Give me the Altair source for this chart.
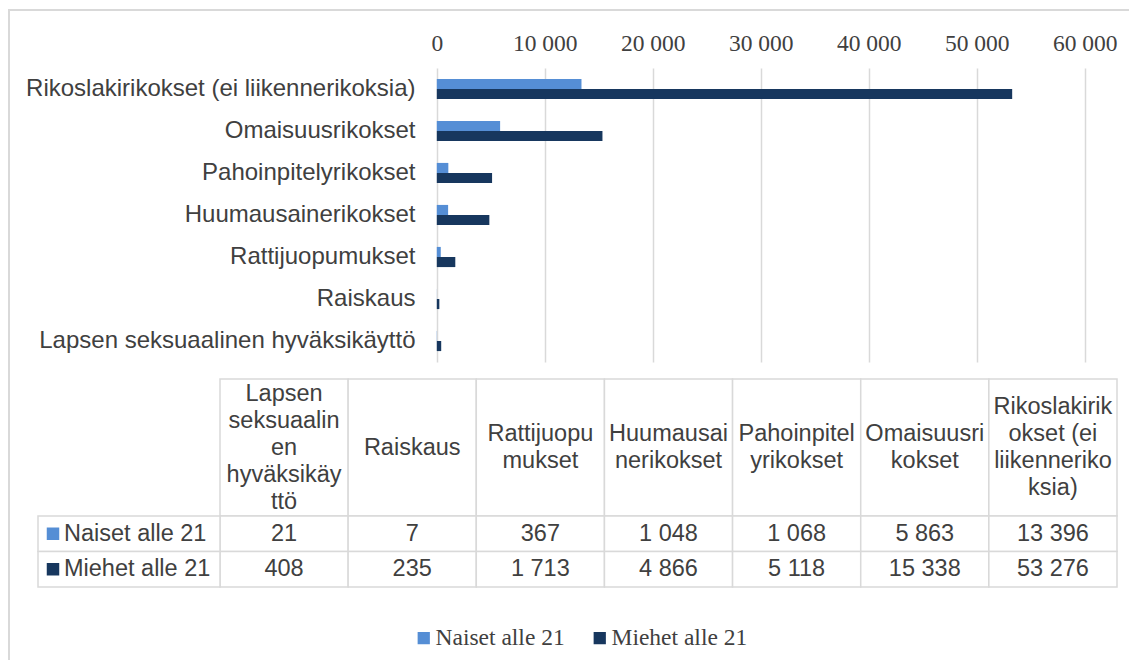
import altair as alt
import pandas as pd

# ---- data ----
categories = [
    "Lapsen seksuaalinen hyväksikäyttö",
    "Raiskaus",
    "Rattijuopumukset",
    "Huumausainerikokset",
    "Pahoinpitelyrikokset",
    "Omaisuusrikokset",
    "Rikoslakirikokset (ei liikennerikoksia)",
]
header_labels = [
    "Lapsen\nseksuaalin\nen\nhyväksikäy\nttö",
    "Raiskaus",
    "Rattijuopu\nmukset",
    "Huumausai\nnerikokset",
    "Pahoinpitel\nyrikokset",
    "Omaisuusri\nkokset",
    "Rikoslakirik\nokset (ei\nliikenneriko\nksia)",
]
series = ["Naiset alle 21", "Miehet alle 21"]
naiset = [21, 7, 367, 1048, 1068, 5863, 13396]
miehet = [408, 235, 1713, 4866, 5118, 15338, 53276]
x_ticks = [0, 10000, 20000, 30000, 40000, 50000, 60000]
colors = ["#558ED5", "#17375E"]

# ---- tables built from the arrays ----
rows = []
for s, vals in zip(series, [naiset, miehet]):
    for c, v in zip(categories, vals):
        rows.append({"category": c, "series": s, "value": v})
df_long = pd.DataFrame(rows)
df_cat = pd.DataFrame({"category": categories, "row": "header"})
df_ser = pd.DataFrame({"series": series, "col": "key"})

# one row per wrapped header line; "pos" is the line's place relative to the block centre
line_rows = []
for c, lab in zip(categories, header_labels):
    parts = lab.split("\n")
    n = len(parts)
    for i, p in enumerate(parts):
        line_rows.append({"category": c, "line": p, "pos": i - (n - 1) / 2})
df_lines = pd.DataFrame(line_rows)

SANS = "Liberation Sans"
SERIF = "Liberation Serif"
TXT = "#404040"
GRID = "#D9D9D9"
FS = 23.5
LH = 27
W, H = 1120, 650

legend = alt.Legend(
    orient="none", legendX=403, legendY=616, direction="horizontal", title=None,
    symbolType="square", symbolSize=150, symbolStrokeWidth=0,
    labelFont=SERIF, labelFontSize=FS, labelColor=TXT, labelOffset=0,
    columnPadding=23, labelLimit=400, padding=0,
)
color_enc = alt.Color("series:N", scale=alt.Scale(domain=series, range=colors), legend=legend)

# ---- bar chart ----
bars = alt.Chart(df_long).mark_bar().encode(
    x=alt.X(
        "value:Q",
        scale=alt.Scale(domain=[0, 60000], range=[427.8, 1075.8], nice=False),
        axis=alt.Axis(
            orient="top", values=x_ticks, title=None,
            labelExpr="replace(format(datum.value, ','), ',', ' ')",
            labelFont=SERIF, labelFontSize=FS, labelColor=TXT,
            labelBaseline="alphabetic", labelPadding=0, labelFlush=False, labelOverlap=False,
            ticks=False, tickSize=0, domain=False, offset=-40,
            grid=True, gridColor=GRID, gridWidth=1.5,
        ),
    ),
    y=alt.Y(
        "category:N", sort=list(reversed(categories)),
        scale=alt.Scale(range=[58, 352], paddingInner=0.52, paddingOuter=0.26),
        axis=alt.Axis(
            title=None, labelFont=SANS, labelFontSize=24, labelColor=TXT,
            labelLimit=600, labelPadding=0, ticks=False, tickSize=0,
            domain=False, grid=False, offset=-406,
        ),
    ),
    yOffset=alt.YOffset("series:N", sort=series, scale=alt.Scale(paddingInner=0, paddingOuter=0)),
    color=color_enc,
)

# ---- table header cells ----
hx = alt.X("category:N", sort=categories,
           scale=alt.Scale(range=[211, 1108], paddingInner=0, paddingOuter=0), axis=None)
hy = alt.Y("row:N", scale=alt.Scale(range=[369, 506], paddingInner=0, paddingOuter=0), axis=None)
header_cells = alt.Chart(df_cat).mark_rect(fill="white", stroke=GRID, strokeWidth=1.5).encode(x=hx, y=hy)

# ---- table header text (wrapped, vertically centred) ----
header_text = alt.Chart(df_lines).mark_text(
    font=SANS, fontSize=FS, color=TXT, align="center", baseline="middle"
).encode(
    x=alt.X("category:N", sort=categories,
            scale=alt.Scale(range=[211, 1108], paddingInner=0, paddingOuter=0), axis=None),
    y=alt.Y("pos:Q", scale=alt.Scale(domain=[-2.5, 2.5], range=[437.5 - 2.5 * LH, 437.5 + 2.5 * LH],
                                     zero=False, nice=False), axis=None),
    text="line:N",
)

# ---- table value rows ----
rx = alt.X("category:N", sort=categories,
           scale=alt.Scale(range=[211, 1108], paddingInner=0, paddingOuter=0), axis=None)
ry = alt.Y("series:N", sort=series,
           scale=alt.Scale(range=[506, 577], paddingInner=0, paddingOuter=0), axis=None)
values = alt.layer(
    alt.Chart(df_long).mark_rect(fill="white", stroke=GRID, strokeWidth=1.5).encode(x=rx, y=ry),
    alt.Chart(df_long).transform_calculate(
        label="replace(format(datum.value, ','), ',', ' ')"
    ).mark_text(font=SANS, fontSize=FS, color=TXT, align="center", baseline="middle")
    .encode(x=rx, y=ry, text="label:N"),
)

# ---- table key column ----
kx = alt.X("col:N", scale=alt.Scale(range=[29, 211], paddingInner=0, paddingOuter=0), axis=None)
kx0 = alt.X("col:N", bandPosition=0,
            scale=alt.Scale(range=[29, 211], paddingInner=0, paddingOuter=0), axis=None)
ky = alt.Y("series:N", sort=series,
           scale=alt.Scale(range=[506, 577], paddingInner=0, paddingOuter=0), axis=None)
key = alt.layer(
    alt.Chart(df_ser).mark_rect(fill="white", stroke=GRID, strokeWidth=1.5).encode(x=kx, y=ky),
    alt.Chart(df_ser).mark_square(filled=True, size=156, opacity=1, xOffset=15)
    .encode(x=kx0, y=ky, color=color_enc),
    alt.Chart(df_ser).mark_text(font=SANS, fontSize=FS, color=TXT, align="left",
                                baseline="middle", dx=26)
    .encode(x=kx0, y=ky, text="series:N"),
)

chart = (
    alt.layer(bars, header_cells, header_text, values, key)
    .resolve_scale(x="independent", y="independent")
    .properties(
        width=W, height=H,
        autosize=alt.AutoSizeParams(type="none"),
        padding={"left": 1, "top": 2, "right": 0, "bottom": 0},
    )
    .configure_view(stroke=GRID, strokeWidth=2, strokeDash=[W, W + H, H])
)

chart.save("out.html", embed_options={"renderer": "svg", "actions": False})
